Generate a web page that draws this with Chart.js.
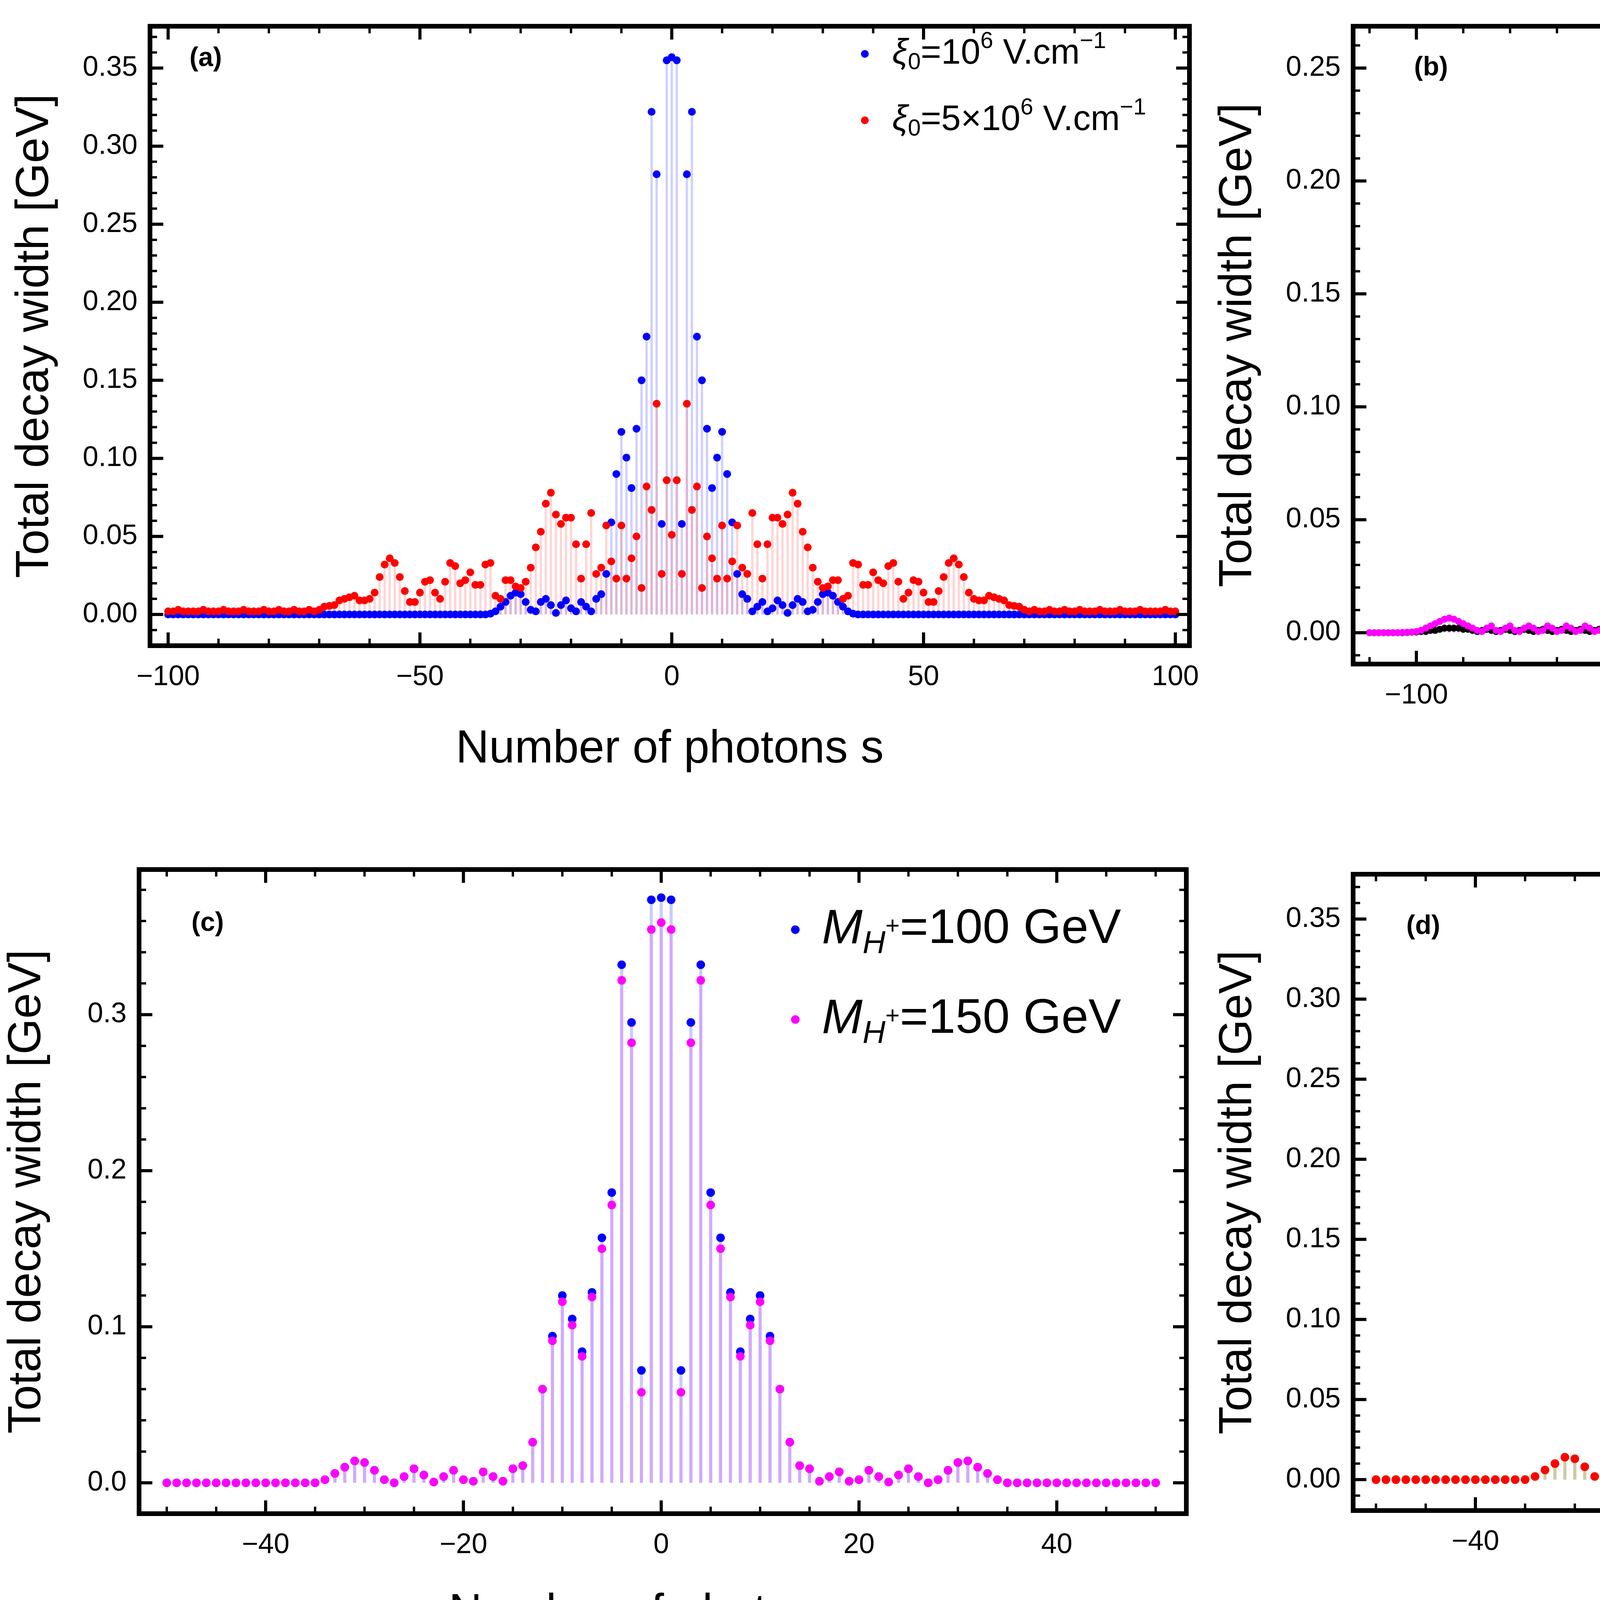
<!DOCTYPE html>
<html><head><meta charset="utf-8">
<script src="https://cdn.jsdelivr.net/npm/chart.js@4"></script>
<style>
html,body{margin:0;padding:0;background:#fff;width:6200px;height:4211px;overflow:hidden}
.p{position:absolute}
</style></head><body>
<div class="p" style="left:0;top:0;width:3150px;height:2000px"><canvas id="ca"></canvas></div>
<div class="p" style="left:3100px;top:0;width:3100px;height:2000px"><canvas id="cb"></canvas></div>
<div class="p" style="left:0;top:2100px;width:3150px;height:2111px"><canvas id="cc"></canvas></div>
<div class="p" style="left:3100px;top:2100px;width:3100px;height:2111px"><canvas id="cd"></canvas></div>
<script>
// ---- data: half profiles, index = s (0,1,2,...); the figure is symmetric in s ----
const aBlueHalf=[0.357,0.355,0.058,0.282,0.322,0.178,0.150,0.119,0.081,0.1005,0.117,0.090,0.059,0.026,0.013,0.010,0.002,0.005,0.008,0.002,0.004,0.009,0.006,0.001,0.006,0.010,0.008,0.002,0.003,0.008,0.013,0.014,0.012,0.008,0.005,0.002,0.0005,0,0,0,0,0,0,0,0,0,0,0,0,0,0,0,0,0,0,0,0,0,0,0,0,0,0,0,0,0,0,0,0,0,0,0,0,0,0,0,0,0,0,0,0,0,0,0,0,0,0,0,0,0,0,0,0,0,0,0,0,0,0,0,0];
const aRedHalf=[0.051,0.086,0.026,0.135,0.067,0.082,0.017,0.050,0.036,0.023,0.057,0.023,0.034,0.057,0.030,0.026,0.065,0.045,0.023,0.045,0.062,0.062,0.058,0.064,0.078,0.071,0.053,0.043,0.030,0.021,0.017,0.018,0.022,0.022,0.010,0.012,0.033,0.032,0.019,0.019,0.027,0.022,0.020,0.031,0.033,0.021,0.010,0.014,0.022,0.021,0.014,0.008,0.008,0.015,0.024,0.033,0.036,0.032,0.024,0.014,0.010,0.009,0.009,0.012,0.011,0.010,0.009,0.006,0.0055,0.005,0.003,0.002,0.003,0.002,0.002,0.003,0.002,0.002,0.003,0.002,0.002,0.003,0.002,0.002,0.002,0.003,0.002,0.002,0.002,0.003,0.002,0.002,0.002,0.003,0.002,0.002,0.002,0.002,0.003,0.002,0.002];
const bBlackHalf=[0.1915,0.254,0.121,0.107,0.134,0.065,0.145,0.231,0.156,0.117,0.075,0.032,0.075,0.0925,0.0575,0.034,0.0475,0.068,0.066,0.0586,0.042,0.0257,0.017,0.007,0.0047,0.004,0.0006,0.003,0.0035,0.0006,0.0023,0.0035,0.0006,0.0023,0.004,0.0006,0.001,0.0035,0.004,0.001,0.0006,0.004,0.0047,0.003,0.002,0.004,0.006,0.005,0.002,0.001,0.003,0.005,0.008,0.009,0.0088,0.0064,0.0047,0.003,0.002,0.001,0.001,0.0015,0.001,0.0005,0.001,0.0015,0.001,0.0005,0.001,0.0015,0.001,0.0005,0.001,0.0015,0.001,0.0005,0.001,0.0015,0.001,0.0005,0.001,0.0015,0.001,0.0005,0.001,0.0015,0.001,0.0005,0.001,0.0015,0.0015,0.002,0.002,0.002,0.002,0.0015,0.001,0.001,0.0005,0.0005,0.0003,0.0002,0.0001,0,0,0,0,0,0,0,0];
const bMagHalf=[0.0765,0.135,0.164,0.0835,0.064,0.068,0.050,0.074,0.065,0.063,0.0785,0.058,0.103,0.138,0.105,0.089,0.0716,0.026,0.026,0.0426,0.029,0.029,0.0455,0.044,0.031,0.042,0.050,0.030,0.009,0.010,0.034,0.049,0.0465,0.0376,0.026,0.022,0.0185,0.0134,0.011,0.0068,0.004,0.002,0.001,0.002,0.003,0.002,0.0005,0.001,0.003,0.002,0.0005,0.001,0.003,0.002,0.0005,0.002,0.003,0.001,0.0005,0.002,0.003,0.001,0.0005,0.002,0.003,0.001,0.0005,0.002,0.003,0.001,0.0005,0.002,0.003,0.001,0.0005,0.002,0.003,0.002,0.0005,0.001,0.003,0.002,0.0005,0.001,0.003,0.002,0.0005,0.001,0.002,0.003,0.004,0.005,0.006,0.0065,0.006,0.005,0.004,0.003,0.002,0.001,0.0005,0.0003,0.0002,0.0001,0,0,0,0,0,0,0];
const cBlueHalf=[0.375,0.3736,0.072,0.295,0.332,0.186,0.157,0.122,0.084,0.105,0.120,0.094,0.060,0.026,0.011,0.009,0.001,0.004,0.007,0.001,0.002,0.008,0.004,0.0005,0.005,0.009,0.004,0,0.002,0.008,0.013,0.014,0.010,0.006,0.002,0,0,0,0,0,0,0,0,0,0,0,0,0,0,0,0];
const cMagHalf=[0.359,0.3546,0.058,0.282,0.322,0.178,0.150,0.119,0.081,0.101,0.116,0.091,0.060,0.026,0.011,0.009,0.001,0.004,0.007,0.001,0.002,0.008,0.004,0.0005,0.005,0.009,0.004,0,0.002,0.008,0.013,0.014,0.010,0.006,0.002,0,0,0,0,0,0,0,0,0,0,0,0,0,0,0,0];
const dTan3Half=[0.359,0.3546,0.058,0.282,0.322,0.178,0.150,0.119,0.081,0.101,0.116,0.091,0.060,0.026,0.011,0.009,0.001,0.004,0.007,0.001,0.002,0.008,0.004,0.0005,0.005,0.009,0.004,0,0.002,0.008,0.013,0.014,0.010,0.006,0.002,0,0,0,0,0,0,0,0,0,0,0,0,0,0,0,0];
const dTan5Half=[0.356,0.3525,0.057,0.281,0.321,0.177,0.150,0.119,0.081,0.101,0.116,0.091,0.060,0.026,0.011,0.009,0.001,0.004,0.007,0.001,0.002,0.008,0.004,0.0005,0.005,0.009,0.004,0,0.002,0.008,0.013,0.014,0.010,0.006,0.002,0,0,0,0,0,0,0,0,0,0,0,0,0,0,0,0];
const ticksAX=[-100,-50,0,50,100], ticksAY=[0,0.05,0.10,0.15,0.20,0.25,0.30,0.35];
const ticksBX=[-100,-50,0,50,100], ticksBY=[0,0.05,0.10,0.15,0.20,0.25];
const ticksCX=[-40,-20,0,20,40], ticksCY=[0,0.1,0.2,0.3];
const ticksDX=[-40,-20,0,20,40], ticksDY=[0,0.05,0.10,0.15,0.20,0.25,0.30,0.35];

function table(half){const full=half.slice(1).reverse().concat(half);const n=half.length-1;return full.map((v,i)=>({x:i-n,y:v}));}

const FONT='"Liberation Sans", Arial, sans-serif';
function rich(ctx,x,y,parts,size){
  let cx=x;
  for(const p of parts){
    const s=size*(p.k||1);
    ctx.font=(p.it?'italic ':'')+Math.round(s)+'px '+FONT;
    ctx.fillStyle='#000';ctx.textBaseline='middle';ctx.textAlign='left';
    ctx.fillText(p.t,cx,y+size*(p.dy||0));
    cx+=ctx.measureText(p.t).width;
  }
}
function makeChart(id,cfg){
  const stemPlugin={id:'stems',beforeDatasetsDraw(ch){
    const ctx=ch.ctx,y0=ch.scales.y.getPixelForValue(0);
    ctx.save();ctx.beginPath();ctx.rect(ch.chartArea.left,ch.chartArea.top,ch.chartArea.right-ch.chartArea.left,ch.chartArea.bottom-ch.chartArea.top);ctx.clip();
    ch.data.datasets.forEach((ds,i)=>{const m=ch.getDatasetMeta(i);ctx.strokeStyle=ds.stemColor;ctx.lineWidth=cfg.stemW;
      m.data.forEach(el=>{ctx.beginPath();ctx.moveTo(el.x,el.y);ctx.lineTo(el.x,y0);ctx.stroke();});});
    ctx.restore();
  },afterDraw(ch){
    const ctx=ch.ctx,a=ch.chartArea,xs=ch.scales.x,ys=ch.scales.y;
    ctx.save();ctx.strokeStyle='#000';
    const tk=(sc,vals,len,w,horiz)=>{ctx.lineWidth=w;vals.forEach(v=>{const p=sc.getPixelForValue(v);
      if(horiz){if(p<a.left-1||p>a.right+1)return;ctx.beginPath();ctx.moveTo(p,a.bottom);ctx.lineTo(p,a.bottom-len);ctx.moveTo(p,a.top);ctx.lineTo(p,a.top+len);ctx.stroke();}
      else{if(p<a.top-1||p>a.bottom+1)return;ctx.beginPath();ctx.moveTo(a.left,p);ctx.lineTo(a.left+len,p);ctx.moveTo(a.right,p);ctx.lineTo(a.right-len,p);ctx.stroke();}});};
    const minor=(mn,mx,st)=>{const r=[];for(let v=Math.ceil(mn/st)*st;v<=mx;v+=st)r.push(v);return r;};
    tk(xs,minor(xs.min,xs.max,cfg.mx),18,6,true);tk(xs,cfg.tx,34,8,true);
    tk(ys,minor(ys.min,ys.max,cfg.my),18,6,false);tk(ys,cfg.ty,34,8,false);
    ctx.lineWidth=12;ctx.strokeRect(a.left,a.top,a.right-a.left,a.bottom-a.top);
    ctx.font='bold 68px '+FONT;ctx.fillStyle='#000';ctx.textBaseline='middle';ctx.textAlign='left';ctx.fillText(cfg.tag,cfg.tagX,cfg.tagY);
    cfg.legend.forEach(L=>{ctx.fillStyle=L.c;ctx.beginPath();ctx.arc(L.x,L.y,cfg.lr,0,7);ctx.fill();rich(ctx,L.x+cfg.lg,L.y,L.parts,cfg.ls);});
    ctx.restore();
  }};
  const el=document.getElementById(id);el.width=cfg.W;el.height=cfg.H;
  const n=cfg.datasets.length;
  return new Chart(el,{type:'scatter',data:{datasets:cfg.datasets.map((d,i)=>({data:d.data,order:n-1-i,pointBackgroundColor:d.c,pointBorderWidth:0,pointRadius:cfg.pr,stemColor:d.s,showLine:false}))},
    options:{responsive:false,animation:false,devicePixelRatio:1,events:[],
      layout:{padding:{top:cfg.top,right:cfg.right,left:0,bottom:0}},
      plugins:{legend:{display:false},tooltip:{enabled:false}},
      scales:{
        x:{type:'linear',min:cfg.xmin,max:cfg.xmax,grid:{display:false},border:{display:false},
          afterBuildTicks:s=>{s.ticks=cfg.tx.map(v=>({value:v}));},afterFit:s=>{s.height=cfg.xh;},
          ticks:{font:{size:72,family:FONT},color:'#000',padding:30,maxRotation:0,callback:v=>String(v).replace('-','\u2212')},
          title:{display:true,text:'Number of photons s',font:{size:118,family:FONT},color:'#000',padding:{top:0,bottom:10}}},
        y:{type:'linear',min:cfg.ymin,max:cfg.ymax,grid:{display:false},border:{display:false},
          afterBuildTicks:s=>{s.ticks=cfg.ty.map(v=>({value:v}));},afterFit:s=>{s.width=cfg.yw;},
          ticks:{font:{size:72,family:FONT},color:'#000',padding:24,callback:v=>v.toFixed(cfg.dec)},
          title:{display:true,text:'Total decay width [GeV]',font:{size:118,family:FONT},color:'#000',padding:{top:cfg.ytp,bottom:0}}}
      }},plugins:[stemPlugin]});
}
const xi=(a)=>[{t:'\u03BE',it:1},{t:'0',k:0.65,dy:0.25},{t:a},{t:'6',k:0.65,dy:-0.35},{t:' V.cm'},{t:'\u22121',k:0.65,dy:-0.35}];
makeChart('ca',{W:3150,H:2000,top:12,right:105,xh:347,yw:384,ytp:20,xmin:-103.6,xmax:102.8,ymin:-0.020,ymax:0.3768,
  tx:ticksAX,ty:ticksAY,mx:10,my:0.01,dec:2,pr:10,stemW:6,tag:'(a)',tagX:485,tagY:150,lr:10,lg:70,ls:90,
  legend:[{c:'#0000ff',x:2214,y:138,parts:xi('=10')},{c:'#ff0000',x:2214,y:308,parts:xi('=5\u00D710')}],
  datasets:[{data:table(aBlueHalf),c:'#0000ff',s:'rgba(120,120,255,0.35)'},{data:table(aRedHalf),c:'#ff0000',s:'rgba(255,120,120,0.3)'}]});
makeChart('cb',{W:3100,H:2000,top:12,right:12,xh:300,yw:364,ytp:0,xmin:-113.5,xmax:113.6,ymin:-0.0139,ymax:0.2685,
  tx:ticksBX,ty:ticksBY,mx:10,my:0.01,dec:2,pr:9,stemW:6,tag:'(b)',tagX:520,tagY:174,lr:9,lg:75,ls:125,
  legend:[{c:'#000',x:2273,y:174,parts:[{t:'\u0127\u03C9',it:1},{t:'=1.54 eV'}]},{c:'#ff00ff',x:2273,y:380,parts:[{t:'\u0127\u03C9',it:1},{t:'=1.17 eV'}]}],
  datasets:[{data:table(bBlackHalf),c:'#000',s:'rgba(150,150,150,0.45)'},{data:table(bMagHalf),c:'#ff00ff',s:'rgba(255,120,255,0.3)'}]});
const mh=(v)=>[{t:'M',it:1},{t:'H',it:1,k:0.65,dy:0.3},{t:'+',k:0.5,dy:-0.05},{t:'='+v+' GeV'}];
makeChart('cc',{W:3150,H:2111,top:126,right:113,xh:336,yw:356,ytp:0,xmin:-52.8,xmax:53.1,ymin:-0.0198,ymax:0.393,
  tx:ticksCX,ty:ticksCY,mx:5,my:0.02,dec:1,pr:11,stemW:8,tag:'(c)',tagX:490,tagY:264,lr:11,lg:68,ls:125,
  legend:[{c:'#0000ff',x:2036,y:280,parts:mh('100')},{c:'#ff00ff',x:2036,y:510,parts:mh('150')}],
  datasets:[{data:table(cBlueHalf),c:'#0000ff',s:'rgba(140,140,255,0.45)'},{data:table(cMagHalf),c:'#ff00ff',s:'rgba(220,120,255,0.4)'}]});
makeChart('cd',{W:3100,H:2111,top:138,right:79,xh:344,yw:364,ytp:0,xmin:-52.3,xmax:52.1,ymin:-0.0193,ymax:0.378,
  tx:ticksDX,ty:ticksDY,mx:5,my:0.01,dec:2,pr:11,stemW:8,tag:'(d)',tagX:500,tagY:272,lr:9,lg:68,ls:115,
  legend:[{c:'#00ff00',x:2357,y:272,parts:[{t:'tan('},{t:'\u03B2',it:1},{t:')=3'}]},{c:'#ff0000',x:2357,y:470,parts:[{t:'tan('},{t:'\u03B2',it:1},{t:')=5'}]}],
  datasets:[{data:table(dTan3Half),c:'#00ff00',s:'rgba(80,200,80,0.4)'},{data:table(dTan5Half),c:'#ff0000',s:'rgba(255,140,120,0.35)'}]});
</script></body></html>
